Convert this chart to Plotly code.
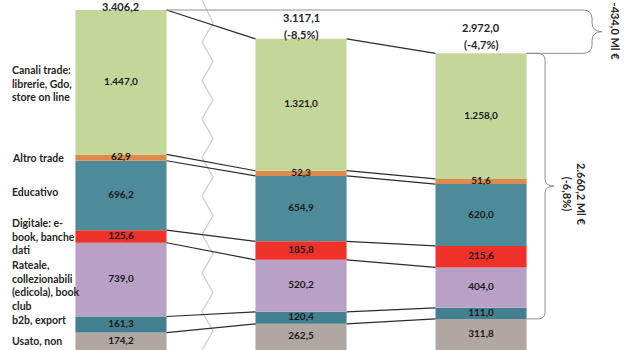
import numpy as np
import plotly.graph_objects as go

# ---------------- data ----------------
periods = ["A", "B", "C"]
seg_names = ["Canali trade:<br>librerie, Gdo,<br>store on line", "Altro trade", "Educativo",
             "Digitale: e-<br>book, banche<br>dati", "Rateale,<br>collezionabili<br>(edicola), book<br>club",
             "b2b, export", "Usato, non"]
canali = [1447.0, 1321.0, 1258.0]
altro = [62.9, 52.3, 51.6]
educativo = [696.2, 654.9, 620.0]
digitale = [125.6, 185.8, 215.6]
rateale = [739.0, 520.2, 404.0]
b2b = [161.3, 120.4, 111.0]
usato = [174.2, 262.5, 311.8]
pct_labels = ["", "(-8,5%)", "(-4,7%)"]
brace1_label = "-434,0 Ml €"
brace2_label = "2.660,2 Ml €<br>(-6,8%)"

colors = ["#c4d79b", "#dd8b4c", "#4d8b9b", "#ee3129", "#b9a0c7", "#43808f", "#b0a7a2"]

# stacking order bottom -> top
stack = [usato, b2b, rateale, digitale, educativo, altro, canali]
stack_colors = colors[::-1]
stack_names = seg_names[::-1]

def it(v):
    s = f"{v:,.1f}"
    return s.replace(",", "X").replace(".", ",").replace("X", ".")

xs = np.arange(len(periods))
W = 0.506
FONT = "Lato"
TXT = "#262626"

fig = go.Figure()
bases = np.zeros(len(periods))
centers = []
for vals, col, name in zip(stack, stack_colors, stack_names):
    v = np.array(vals)
    fig.add_trace(go.Bar(x=xs, y=v, base=bases, width=W, marker=dict(color=col, line=dict(width=0)),
                         name=name, showlegend=False, hoverinfo="skip"))
    centers.append(bases + v / 2)
    bases = bases + v
totals = bases

# value labels
for vals, c in zip(stack, centers):
    fig.add_trace(go.Scatter(x=xs, y=c, mode="text", text=[it(v) for v in vals],
                             textfont=dict(family=FONT, size=10, color="#1a1a1a", weight="bold"),
                             showlegend=False, hoverinfo="skip"))

# connecting lines between bars
tot = totals
altro_top = tot - np.array(canali)
altro_bot = altro_top - np.array(altro)
dig_top = altro_bot - np.array(educativo)
dig_bot = dig_top - np.array(digitale)
b2b_top = dig_bot - np.array(rateale)
b2b_bot = np.array(usato)
levels = [tot, altro_top, altro_bot, dig_top, dig_bot, b2b_top, b2b_bot]
lx, ly = [], []
for L in levels:
    for i in range(len(periods) - 1):
        lx += [xs[i] + W / 2, xs[i + 1] - W / 2, None]
        ly += [L[i], L[i + 1], None]
fig.add_trace(go.Scatter(x=lx, y=ly, mode="lines", line=dict(color="#2b2b2b", width=1.2),
                         showlegend=False, hoverinfo="skip"))

# left labels
label_shift = [-1, 0, 3, 0, -6, 5, 0][::-1]
for name, c, sh in zip(stack_names, centers, label_shift):
    fig.add_annotation(x=10 / 633, xref="paper", y=c[0], yref="y", text=name, showarrow=False,
                       xanchor="left", yanchor="middle", align="left", yshift=sh,
                       font=dict(family=FONT, size=10.5, color=TXT, weight="bold"))

# totals labels above bars
tot_shift = [(4, None), (21, 4), (26, 9)]
for i in range(len(periods)):
    s1, s2 = tot_shift[i]
    fig.add_annotation(x=xs[i], y=tot[i], text=it(tot[i]), showarrow=False, yanchor="middle",
                       yshift=s1, font=dict(family=FONT, size=11, color=TXT, weight="bold"))
    if pct_labels[i]:
        fig.add_annotation(x=xs[i], y=tot[i], text=pct_labels[i], showarrow=False, yanchor="middle",
                           yshift=s2, font=dict(family=FONT, size=11, color=TXT, weight="bold"))

# braces
px_x = 1 / 180.0
px_y = 3506.4 / 350.0

def brace(x_top, y_top, x_bot, y_bot, xb, tip, r):
    rx, ry = r * px_x, r * px_y
    ym = (y_top + y_bot) / 2
    t = tip * px_x
    return (f"M {x_top},{y_top} L {xb - rx},{y_top} Q {xb},{y_top} {xb},{y_top - ry} "
            f"L {xb},{ym + ry} Q {xb},{ym} {xb + t},{ym} Q {xb},{ym} {xb},{ym - ry} "
            f"L {xb},{y_bot + ry} Q {xb},{y_bot} {xb - rx},{y_bot} L {x_bot},{y_bot}")

xb1 = 2 + (592 - 481) * px_x
xb2 = 2 + (545 - 481) * px_x
fig.add_shape(type="path", xref="x", yref="y",
              path=brace(xs[0] + W / 2, tot[0], xs[2] + W / 2, tot[2], xb1, 10, 9),
              line=dict(color="#8f8f8f", width=1))
fig.add_shape(type="path", xref="x", yref="y",
              path=brace(xs[2] + W / 2, tot[2], xs[2] + W / 2, usato[2], xb2, 9, 7),
              line=dict(color="#8f8f8f", width=1))
fig.add_annotation(x=2 + (615 - 481) * px_x, y=(tot[0] + tot[2]) / 2, text=brace1_label, textangle=90,
                   showarrow=False, xanchor="center", yanchor="middle",
                   font=dict(family=FONT, size=11, color=TXT, weight="bold"))
fig.add_annotation(x=2 + (575 - 481) * px_x, y=(tot[2] + usato[2]) / 2, text=brace2_label, textangle=90,
                   showarrow=False, xanchor="center", yanchor="middle", yshift=-8,
                   font=dict(family=FONT, size=11, color=TXT, weight="bold"))

# axis break zigzag (decoration)
zx_l, zx_r = (202 - 121) * px_x, (213 - 121) * px_x
pts = [(zx_l, 0.0)]
yy = 23.0
right = True
while yy < 360:
    pts.append((zx_r if right else zx_l, yy))
    yy += 19.0 if right else 19.5
    right = not right
path = "M " + " L ".join(f"{x},{1 - y / 350}" for x, y in pts)
fig.add_shape(type="path", xref="x", yref="paper", path=path, line=dict(color="#cfcfcf", width=1.3),
              layer="below")

fig.update_layout(width=633, height=350, margin=dict(l=0, r=0, t=0, b=0), barmode="overlay",
                  plot_bgcolor="white", paper_bgcolor="white",
                  xaxis=dict(range=[-0.672, 2.844], visible=False),
                  yaxis=dict(range=[0, 3506.4], visible=False))
fig.write_html("out.html")
